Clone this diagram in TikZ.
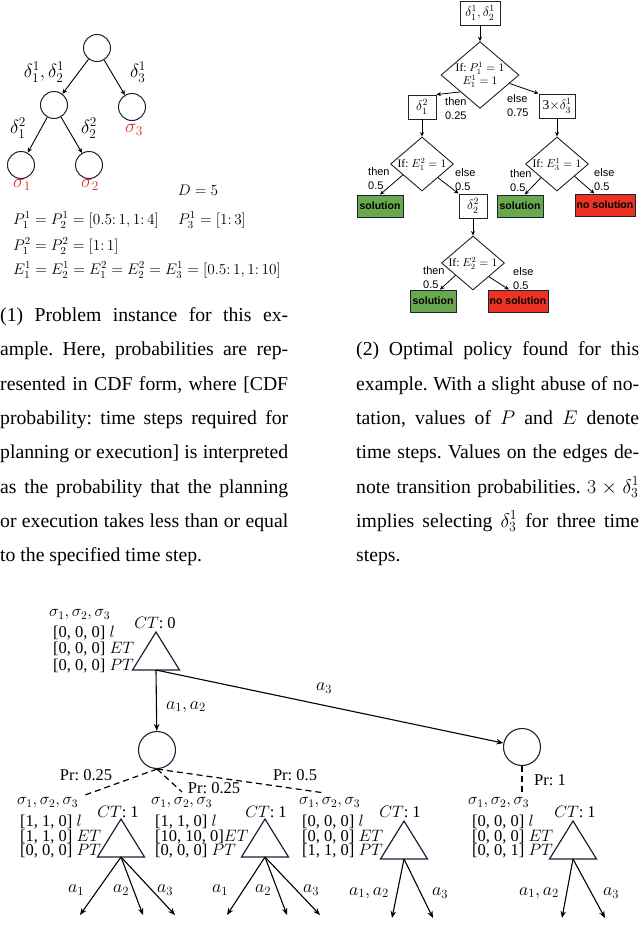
\RequirePackage{fix-cm}
\documentclass[tikz,border=0pt]{standalone}
\usepackage{fontspec}
\setmainfont{Liberation Serif}
\setsansfont{Liberation Sans}
\usetikzlibrary{shapes.geometric,arrows.meta,calc}
\definecolor{solgreen}{RGB}{106,168,79}
\definecolor{nored}{RGB}{234,51,35}
\definecolor{ink}{RGB}{25,35,55}
\definecolor{sigred}{RGB}{230,40,30}
\newcommand\fsz[2]{\fontsize{#1}{#2}\selectfont}
\frenchspacing
\tikzset{
  captxt/.style={anchor=base west, inner sep=0pt, font=\fsz{19.7}{24}},
  tcirc/.style={circle, draw=ink, line width=1pt, minimum size=27pt, inner sep=0pt},
  tlab/.style={inner sep=0pt, font=\fsz{19}{20}},
  flab/.style={anchor=west, inner sep=0pt, font=\fsz{15.3}{18}},
  tarr/.style={-{Stealth[length=5pt,width=4.5pt]}, line width=0.9pt},
  fbox/.style={draw=ink, line width=0.9pt, minimum height=24pt, inner sep=0pt, font=\fsz{13.5}{15}},
  dia/.style={diamond, draw=ink, line width=0.9pt, inner sep=0pt, aspect=1.17, minimum width=63pt, minimum height=54pt, align=center, font=\fsz{11.5}{13}},
  sol/.style={draw=ink, line width=0.8pt, fill=solgreen, minimum width=46pt, minimum height=22pt, inner sep=0pt, font=\sffamily\bfseries\fsz{10.5}{12}},
  nosol/.style={sol, fill=nored, minimum width=60pt},
  branch/.style={anchor=west, inner sep=0pt, align=left, font=\sffamily\fsz{11}{14}},
  farr/.style={-{Stealth[length=4.5pt,width=4pt]}, line width=0.8pt},
  bcirc/.style={circle, draw=ink, line width=1.1pt, minimum size=37pt, inner sep=0pt},
  blab/.style={anchor=west, inner sep=0pt, font=\fsz{16.5}{18}},
  slab/.style={anchor=west, inner sep=0pt, font=\fsz{16.5}{17}},
  ctlab/.style={inner sep=0pt, font=\fsz{16.5}{18}},
  alab/.style={inner sep=0pt, font=\fsz{18}{20}},
  barr/.style={-{Stealth[length=7pt,width=5.5pt]}, line width=1.1pt},
  bdash/.style={dash pattern=on 6pt off 4pt, line width=1.2pt},
  tristyle/.style={draw=ink, line width=1.2pt, line join=miter},
}
\newcommand\mytri[3]{%
  \coordinate (#1) at (#2,#3);
  \draw[tristyle] ($(#1)+(0,-38)$) -- ($(#1)+(-23.5,0)$) -- ($(#1)+(23.5,0)$) -- cycle;
}
\begin{document}
\begin{tikzpicture}[x=1pt,y=-1pt]
\path[use as bounding box] (0,0) rectangle (640,926);

% ---------- top-left tree ----------
\node[tcirc] (r0) at (97,48) {};
\node[tcirc] (m1) at (54,105) {};
\node[tcirc] (m2) at (132,107) {};
\node[tcirc] (l1) at (21,165) {};
\node[tcirc] (l2) at (89,165) {};
\draw[tarr] (r0) -- (m1);
\draw[tarr] (r0) -- (m2);
\draw[tarr] (m1) -- (l1);
\draw[tarr] (m1) -- (l2);
\node[tlab] (tl1) at (44,72) {$\delta_1^1, \delta_2^1$};
\node[tlab] (tl2) at (138,72) {$\delta_3^1$};
\node[tlab] (tl3) at (18,128) {$\delta_1^2$};
\node[tlab] (tl4) at (89,128) {$\delta_2^2$};
\node[tlab, text=sigred] (s3) at (134,130) {$\sigma_3$};
\node[tlab, text=sigred] (s1) at (22,185) {$\sigma_1$};
\node[tlab, text=sigred] (s2) at (90,185) {$\sigma_2$};
\node[flab, anchor=center] (dd) at (198,190) {$D = 5$};
\node[flab] (f1) at (13,220) {$P_1^1 = P_2^1 = [0.5\colon 1, 1\colon 4]$};
\node[flab] (f2) at (178,220) {$P_3^1 = [1\colon 3]$};
\node[flab] (f3) at (13,246) {$P_1^2 = P_2^2 = [1\colon 1]$};
\node[flab] (f4) at (13,270) {$E_1^1 = E_2^1 = E_1^2 = E_2^2 = E_3^1 = [0.5\colon 1, 1\colon 10]$};

% ---------- top-right flowchart ----------
\node[fbox, minimum width=40pt] (b1) at (480,13) {$\delta_1^1, \delta_2^1$};
\node[dia, minimum width=73pt, minimum height=64pt] (d1) at (480,75) {If: $P_1^1 = 1$\\$E_1^1 = 1$};
\node[fbox, minimum width=28pt] (b2) at (422,107) {$\delta_1^2$};
\node[fbox, minimum width=36pt] (b3) at (557,106) {3$\times\delta_3^1$};
\node[dia] (d2) at (422,164) {If: $E_1^2 = 1$};
\node[dia] (d4) at (557,164) {If: $E_3^1 = 1$};
\node[sol] (so1) at (380,206) {solution};
\node[fbox, minimum width=28pt] (b4) at (473,206) {$\delta_2^2$};
\node[sol] (so2) at (520,206) {solution};
\node[nosol] (ns2) at (605,205) {no solution};
\node[dia] (d3) at (473,263) {If: $E_2^2 = 1$};
\node[sol] (so3) at (433,301) {solution};
\node[nosol] (ns3) at (518,301) {no solution};

\draw[farr] (b1) -- (d1.north);
\draw[farr] ($(d1.west)!0.5!(d1.south)$) -- (b2.north east);
\draw[farr] ($(d1.east)!0.25!(d1.south)$) -- (b3.north west);
\draw[farr] (b2) -- (d2.north);
\draw[farr] (b3) -- (d4.north);
\draw[farr] ($(d2.west)!0.4!(d2.south)$) -- (so1.north);
\draw[farr] ($(d2.east)!0.5!(d2.south)$) -- (b4.north west);
\draw[farr] ($(d4.west)!0.5!(d4.south)$) -- ($(so2.north)!0.2!(so2.north east)$);
\draw[farr] ($(d4.east)!0.45!(d4.south)$) -- ($(ns2.north west)!0.65!(ns2.north)$);
\draw[farr] (b4) -- (d3.north);
\draw[farr] ($(d3.west)!0.45!(d3.south)$) -- ($(so3.north)!0.3!(so3.north east)$);
\draw[farr] ($(d3.east)!0.5!(d3.south)$) -- ($(ns3.north west)!0.7!(ns3.north)$);

\node[branch] (br1) at (445,109) {then\\0.25};
\node[branch] (br2) at (507,106) {else\\0.75};
\node[branch] (br3) at (368,179) {then\\0.5};
\node[branch] (br4) at (455,180) {else\\0.5};
\node[branch] (br5) at (510,181) {then\\0.5};
\node[branch] (br6) at (594,180) {else\\0.5};
\node[branch] (br7) at (423,278) {then\\0.5};
\node[branch] (br8) at (513,279) {else\\0.5};

% ---------- captions ----------
\node[captxt] (ca1) at (0,321) {\makebox[288pt][s]{(1) Problem instance for this ex-}};
\node[captxt] (ca2) at (0,355) {\makebox[288pt][s]{ample. Here, probabilities are rep-}};
\node[captxt] (ca3) at (0,390) {\makebox[288pt][s]{resented in CDF form, where [CDF}};
\node[captxt] (ca4) at (0,424) {\makebox[288pt][s]{probability: time steps required for}};
\node[captxt] (ca5) at (0,458) {\makebox[288pt][s]{planning or execution] is interpreted}};
\node[captxt] (ca6) at (0,493) {\makebox[288pt][s]{as the probability that the planning}};
\node[captxt] (ca7) at (0,527) {\makebox[288pt][s]{or execution takes less than or equal}};
\node[captxt] (ca8) at (0,561) {to the specified time step.};

\node[captxt] (cb1) at (356,355) {\makebox[283pt][s]{(2) Optimal policy found for this}};
\node[captxt] (cb2) at (356,390) {\makebox[283pt][s]{example. With a slight abuse of no-}};
\node[captxt] (cb3) at (356,424) {\makebox[283pt][s]{tation, values of $P$ and $E$ denote}};
\node[captxt] (cb4) at (356,458) {\makebox[283pt][s]{time steps. Values on the edges de-}};
\node[captxt] (cb5) at (356,493) {\makebox[283pt][s]{note transition probabilities. $3\times\delta_3^1$}};
\node[captxt] (cb6) at (356,527) {\makebox[283pt][s]{implies selecting $\delta_3^1$ for three time}};
\node[captxt] (cb7) at (356,561) {steps.};

% ---------- bottom tree ----------
\mytri{t0}{156}{670}
\node[slab] (r0s) at (49,615) {$\sigma_1, \sigma_2, \sigma_3$};
\node[blab] (r0a) at (53,633) {[0, 0, 0] $l$};
\node[blab] (r0b) at (53,649) {[0, 0, 0] $ET$};
\node[blab] (r0c) at (53,666) {[0, 0, 0] $PT$};
\node[ctlab] (r0ct) at (155,623) {$CT$: 0};

\node[bcirc] (bc1) at (157,750) {};
\node[bcirc] (bc2) at (522,747) {};
\draw[barr] (t0) -- (bc1);
\draw[barr] (t0) -- (bc2);
\node[alab] (la12) at (186,707) {$a_1, a_2$};
\node[alab] (la3) at (324,688) {$a_3$};

\coordinate (pe1) at (85,795);
\coordinate (pe2) at (182,792);
\coordinate (pe3) at (325,793);
\coordinate (pe4) at (522,793);
\draw[bdash] (bc1.south) -- (pe1);
\draw[bdash] (bc1.south) -- (pe2);
\draw[bdash] (bc1.south) -- (pe3);
\draw[bdash] (bc2.south) -- (pe4);
\node[ctlab] (pr1) at (86,775) {Pr: 0.25};
\node[ctlab] (pr2) at (214,788) {Pr: 0.25};
\node[ctlab] (pr3) at (295,775) {Pr: 0.5};
\node[ctlab] (pr4) at (550,780) {Pr: 1};

% subtree 1
\mytri{t1}{121}{857}
\node[slab] (s1s) at (17,803) {$\sigma_1, \sigma_2, \sigma_3$};
\node[blab] (s1a) at (20,822) {[1, 1, 0] $l$};
\node[blab] (s1b) at (20,837) {[1, 1, 0] $ET$};
\node[blab] (s1c) at (20,851) {[0, 0, 0] $PT$};
\node[ctlab] (s1ct) at (118,812) {$CT$: 1};
\coordinate (e11) at (80,915);
\coordinate (e12) at (143,915);
\coordinate (e13) at (175,915);
\draw[barr] (t1) -- (e11);
\draw[barr] (t1) -- (e12);
\draw[barr] (t1) -- (e13);
\node[alab] (a11) at (76,890) {$a_1$};
\node[alab] (a12) at (121,890) {$a_2$};
\node[alab] (a13) at (165,890) {$a_3$};

% subtree 2
\mytri{t2}{265}{857}
\node[slab] (s2s) at (151,803) {$\sigma_1, \sigma_2, \sigma_3$};
\node[blab] (s2a) at (155,822) {[1, 1, 0] $l$};
\node[blab] (s2b) at (155,837) {[10, 10, 0]$ET$};
\node[blab] (s2c) at (155,851) {[0, 0, 0] $PT$};
\node[ctlab] (s2ct) at (266,812) {$CT$: 1};
\coordinate (e21) at (227,915);
\coordinate (e22) at (287,915);
\coordinate (e23) at (320,915);
\draw[barr] (t2) -- (e21);
\draw[barr] (t2) -- (e22);
\draw[barr] (t2) -- (e23);
\node[alab] (a21) at (220,890) {$a_1$};
\node[alab] (a22) at (263,890) {$a_2$};
\node[alab] (a23) at (311,890) {$a_3$};

% subtree 3
\mytri{t3}{404}{859}
\node[slab] (s3s) at (299,803) {$\sigma_1, \sigma_2, \sigma_3$};
\node[blab] (s3a) at (302,822) {[0, 0, 0] $l$};
\node[blab] (s3b) at (302,837) {[0, 0, 0] $ET$};
\node[blab] (s3c) at (302,851) {[1, 1, 0] $PT$};
\node[ctlab] (s3ct) at (400,812) {$CT$: 1};
\coordinate (e31) at (392,918);
\coordinate (e32) at (433,918);
\draw[barr] (t3) -- (e31);
\draw[barr] (t3) -- (e32);
\node[alab] (a31) at (369,893) {$a_1, a_2$};
\node[alab] (a32) at (440,893) {$a_3$};

% subtree 4
\mytri{t4}{573}{859}
\node[slab] (s4s) at (468,803) {$\sigma_1, \sigma_2, \sigma_3$};
\node[blab] (s4a) at (472,822) {[0, 0, 0] $l$};
\node[blab] (s4b) at (472,837) {[0, 0, 0] $ET$};
\node[blab] (s4c) at (472,851) {[0, 0, 1] $PT$};
\node[ctlab] (s4ct) at (575,812) {$CT$: 1};
\coordinate (e41) at (562,918);
\coordinate (e42) at (605,918);
\draw[barr] (t4) -- (e41);
\draw[barr] (t4) -- (e42);
\node[alab] (a41) at (539,893) {$a_1, a_2$};
\node[alab] (a42) at (611,893) {$a_3$};
\end{tikzpicture}
\end{document}
